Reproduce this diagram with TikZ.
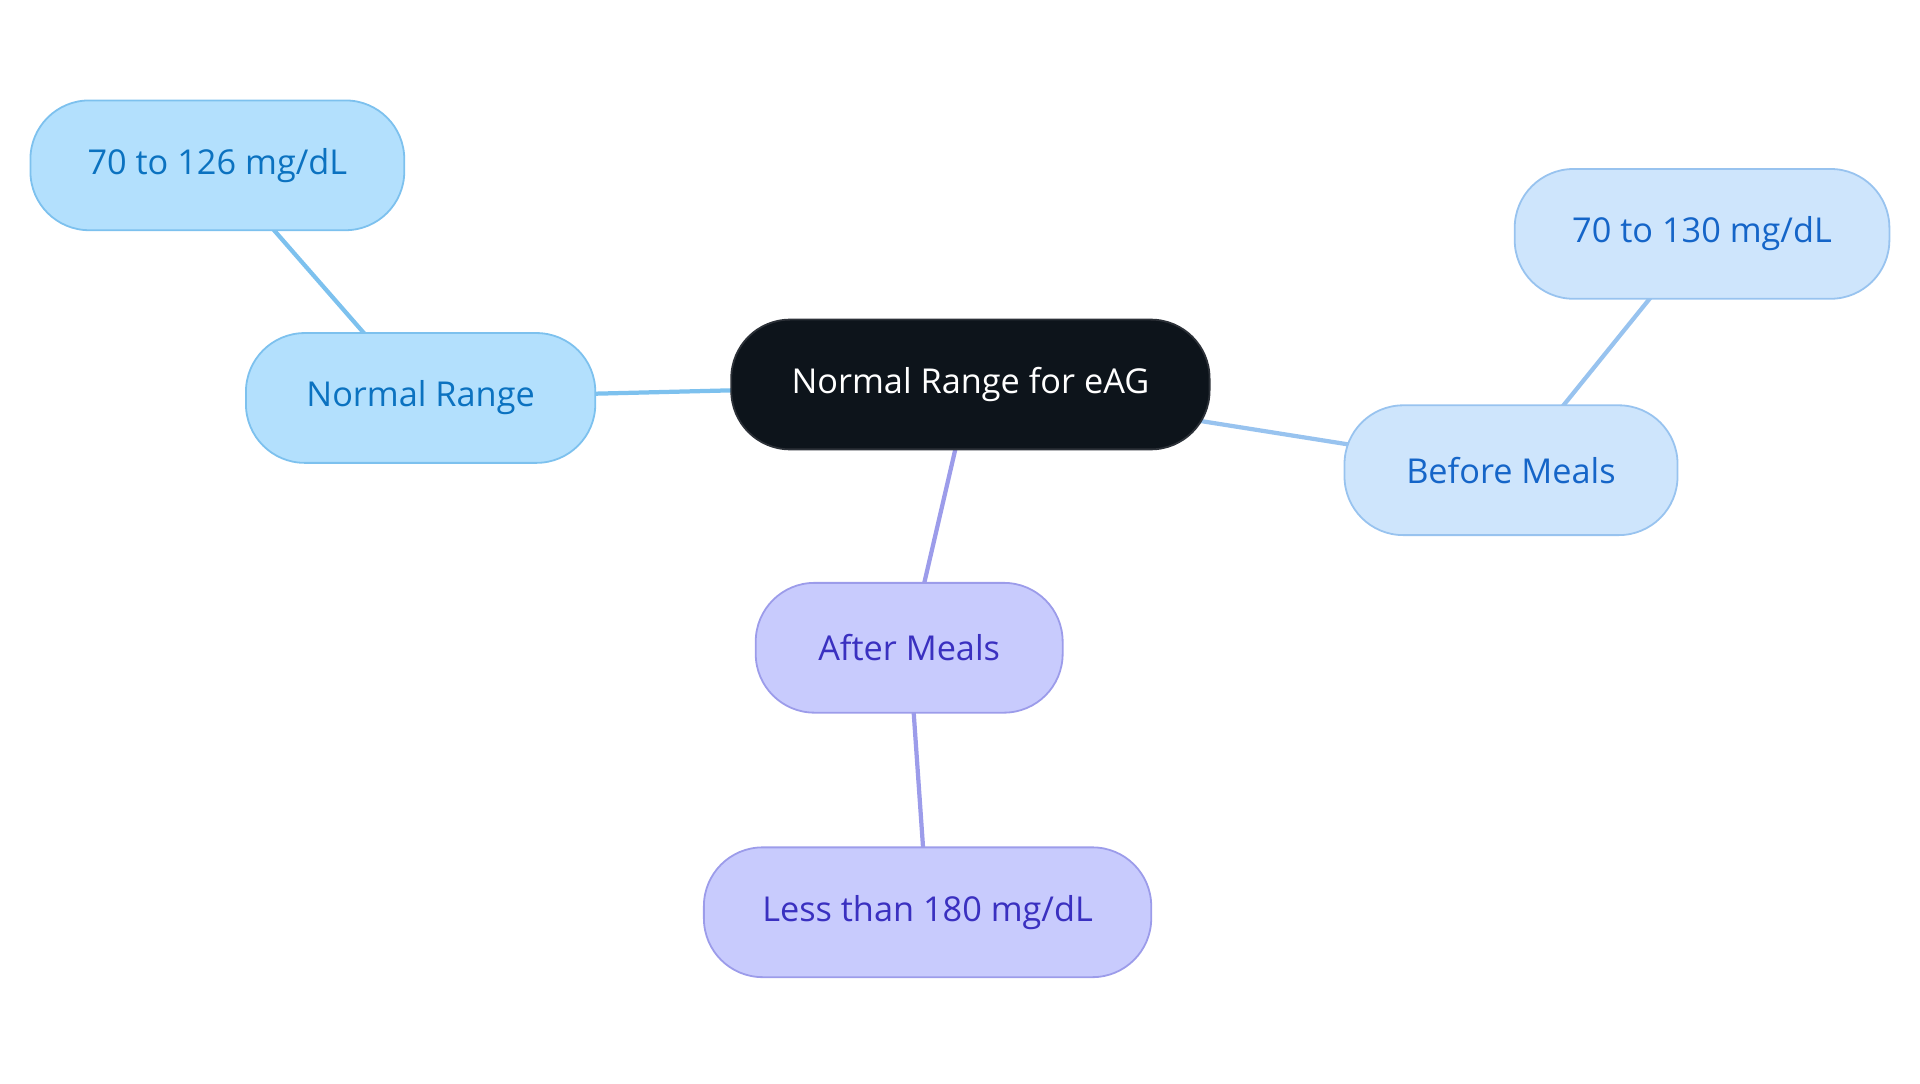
\documentclass[tikz,border=0pt]{standalone}
\usepackage{fontspec}
\setmainfont{Open Sans}
\usetikzlibrary{backgrounds}

\definecolor{rootfill}{HTML}{0D141B}
\definecolor{rootline}{HTML}{2C3138}
\definecolor{skyfill}{HTML}{B3E0FD}
\definecolor{skyline}{HTML}{7DC1EE}
\definecolor{skytext}{HTML}{0B72C0}
\definecolor{palefill}{HTML}{CEE5FC}
\definecolor{paleline}{HTML}{98C3EF}
\definecolor{paletext}{HTML}{1565C8}
\definecolor{lilacfill}{HTML}{C8CBFD}
\definecolor{lilacline}{HTML}{9C9CEA}
\definecolor{lilactext}{HTML}{3A30C0}

\tikzset{every picture/.style={line width=0.75pt}}
\tikzset{
  pill/.style={rounded corners=36pt, minimum height=79.5pt, line width=1.1pt,
    font=\fontsize{21pt}{25pt}\selectfont, inner sep=0pt},
  rootpill/.style={pill, fill=rootfill, draw=rootline, text=white},
  skypill/.style={pill, fill=skyfill, draw=skyline, text=skytext},
  palepill/.style={pill, fill=palefill, draw=paleline, text=paletext},
  lilacpill/.style={pill, fill=lilacfill, draw=lilacline, text=lilactext},
  skylink/.style={draw=skyline, line width=2.6pt},
  palelink/.style={draw=paleline, line width=2.6pt},
  lilaclink/.style={draw=lilacline, line width=2.6pt}
}

\begin{document}
\begin{tikzpicture}[x=0.75pt,y=0.75pt,yscale=-1,xscale=1]
	\useasboundingbox (0,0) rectangle (1568,884.5);

	% Root
	\node [rootpill, minimum width=293pt] (root) at (792.5,314) {Normal Range for eAG};

	% Normal Range branch
	\node [skypill, minimum width=214pt] (normal) at (343.5,325) {Normal Range};
	\node [skypill, minimum width=229pt] (normalval) at (177.5,135) {70 to 126 mg/dL};

	% Before Meals branch
	\node [palepill, minimum width=204pt] (before) at (1234,384) {Before Meals};
	\node [palepill, minimum width=229.5pt] (beforeval) at (1390,191) {70 to 130 mg/dL};

	% After Meals branch
	\node [lilacpill, minimum width=188pt] (after) at (742.5,529) {After Meals};
	\node [lilacpill, minimum width=274pt] (afterval) at (757.5,745) {Less than 180 mg/dL};

	% Links
	\begin{scope}[on background layer]
		\draw [skylink] (root.center) -- (normal.center);
		\draw [skylink] (normal.center) -- (normalval.center);
		\draw [palelink] (root.center) -- (before.center);
		\draw [palelink] (before.center) -- (beforeval.center);
		\draw [lilaclink] (root.center) -- (after.center);
		\draw [lilaclink] (after.center) -- (afterval.center);
	\end{scope}

\end{tikzpicture}
\end{document}
